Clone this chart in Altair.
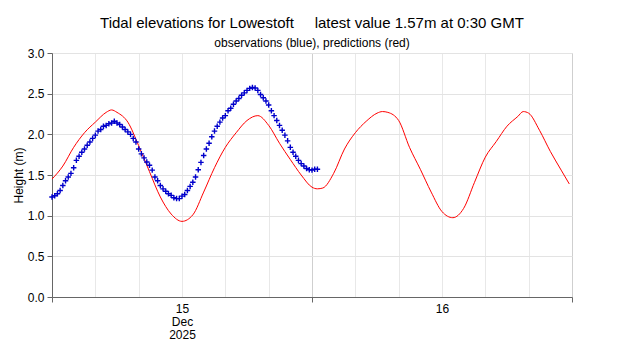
import altair as alt
import pandas as pd

# ---- data ----
START = "2025-12-15T00:00:00"
TITLE = "Tidal elevations for Lowestoft" + "\u00a0" * 5 + "latest value 1.57m at 0:30 GMT"
SUBTITLE = "observations (blue), predictions (red)"

# predictions (red): hours after 15 Dec 00:00 GMT
pred_hours = [0, 1, 2, 3, 4, 5, 5.5, 6, 7, 8, 9, 10, 11, 12, 13, 14, 15, 16, 17, 18, 19, 20,
              21, 22, 23, 24, 24.5, 25, 26, 27, 28, 29, 30, 30.5, 31, 32, 33, 34, 35, 36, 37,
              38, 39, 40, 41, 42, 43, 43.5, 44, 45, 46, 47, 47.75]
pred_values = [1.45, 1.61, 1.84, 2.02, 2.15, 2.27, 2.30, 2.27, 2.15, 1.86, 1.54, 1.23, 1.02,
               0.93, 1.01, 1.29, 1.59, 1.84, 2.02, 2.17, 2.23, 2.11, 1.89, 1.69, 1.50, 1.35,
               1.33, 1.34, 1.52, 1.82, 2.02, 2.16, 2.26, 2.28, 2.27, 2.17, 1.84, 1.57, 1.29,
               1.05, 0.975, 1.09, 1.41, 1.72, 1.91, 2.10, 2.22, 2.28, 2.26, 2.05, 1.79, 1.56,
               1.39]

# observations (blue): every 15 minutes from 15 Dec 00:00 GMT
obs_step_minutes = 15
obs_values = [1.23, 1.245, 1.27, 1.31, 1.37, 1.43, 1.475, 1.52, 1.59, 1.68, 1.73, 1.78, 1.82,
              1.865, 1.905, 1.95, 1.99, 2.04, 2.06, 2.10, 2.11, 2.13, 2.14, 2.16, 2.14, 2.12,
              2.09, 2.06, 2.03, 2.00, 1.95, 1.905, 1.82, 1.76, 1.71, 1.66, 1.62, 1.56, 1.475,
              1.43, 1.37, 1.33, 1.30, 1.27, 1.25, 1.22, 1.21, 1.21,
              1.24, 1.26, 1.31, 1.36, 1.41, 1.475, 1.565, 1.655, 1.74, 1.82, 1.89, 1.97, 2.04,
              2.10, 2.15, 2.20, 2.23, 2.29, 2.32, 2.37, 2.41, 2.44, 2.48, 2.51, 2.54, 2.565,
              2.575, 2.57, 2.54, 2.49, 2.45, 2.41, 2.36, 2.29, 2.23, 2.17, 2.11, 2.05, 1.99,
              1.92, 1.84, 1.78, 1.73, 1.68, 1.64, 1.61, 1.58, 1.565,
              1.56, 1.57, 1.57]

y_ticks = [0.0, 0.5, 1.0, 1.5, 2.0, 2.5, 3.0]
grid_step_hours = 4
span_hours = 48

# ---- build table ----
base = pd.Timestamp(START)


def iso(h):
    return (base + pd.Timedelta(hours=h)).strftime("%Y-%m-%dT%H:%M:%SZ")


rows = [{"t": iso(h), "v": v, "s": "pred"} for h, v in zip(pred_hours, pred_values)]
rows += [{"t": iso(i * obs_step_minutes / 60), "v": v, "s": "obs"} for i, v in enumerate(obs_values)]
df = pd.DataFrame(rows)


def dt(h):
    return alt.DateTime(year=2025, month=12, date=15 + h // 24, hours=h % 24, utc=True)


x_values = [dt(h) for h in range(0, span_hours + 1, grid_step_hours)]

x_axis = alt.Axis(
    values=x_values,
    title=None,
    grid=True,
    gridColor={"condition": {"test": "utchours(datum.value) === 0", "value": "#cfcfcf"}, "value": "#e8e8e8"},
    tickOpacity={"condition": {"test": "utchours(datum.value) === 0", "value": 1}, "value": 0},
    tickSize=5,
    tickColor="#666666",
    domainColor="#666666",
    labelExpr="utchours(datum.value) === 12 ? (utcdate(datum.value) === 15 ? ['15', 'Dec', '2025'] : utcdate(datum.value) + '') : ''",
    labelPadding=1,
    labelFontSize=12,
    labelLineHeight=13,
    labelColor="black",
    labelAngle=0,
    labelAlign="center",
    labelBaseline="top",
    labelOverlap=False,
)

y_axis = alt.Axis(
    values=y_ticks,
    format=".1f",
    title="Height (m)",
    grid=True,
    gridColor="#e3e3e3",
    tickSize=5,
    tickColor="#666666",
    domainColor="#666666",
    labelFontSize=12,
    labelColor="black",
    labelPadding=3,
    titleFontSize=12,
    titleFontWeight="normal",
    titleColor="black",
    titlePadding=2,
)

enc_x = alt.X("t:T", axis=x_axis,
              scale=alt.Scale(type="utc", domain=[dt(0), dt(span_hours)]))
enc_y = alt.Y("v:Q", axis=y_axis, scale=alt.Scale(domain=[0, 3], nice=False))

base_chart = alt.Chart(df).encode(x=enc_x, y=enc_y)

line = base_chart.transform_filter(alt.datum.s == "pred").mark_line(
    color="#ff0000", strokeWidth=1, interpolate="monotone"
)

pts = base_chart.transform_filter(alt.datum.s == "obs").mark_point(
    shape="M-1,0H1M0,-1V1", size=30, filled=False, stroke="#0000cc", strokeWidth=1.4, opacity=1
)

chart = alt.layer(line, pts).properties(
    width=520,
    height=244,
    title=alt.TitleParams(
        text=TITLE,
        subtitle=SUBTITLE,
        fontSize=15,
        fontWeight="normal",
        subtitleFontSize=12,
        color="black",
        subtitleColor="black",
        anchor="middle",
        offset=-2,
        subtitlePadding=7,
        font="Liberation Sans",
        subtitleFont="Liberation Sans",
    ),
    autosize=alt.AutoSizeParams(type="none"),
    padding={"left": 44, "top": 45, "right": 40, "bottom": 50},
).configure_view(stroke=None).configure(font="Liberation Sans", background="white")

chart.save("out.html", embed_options={"renderer": "svg", "actions": False})
